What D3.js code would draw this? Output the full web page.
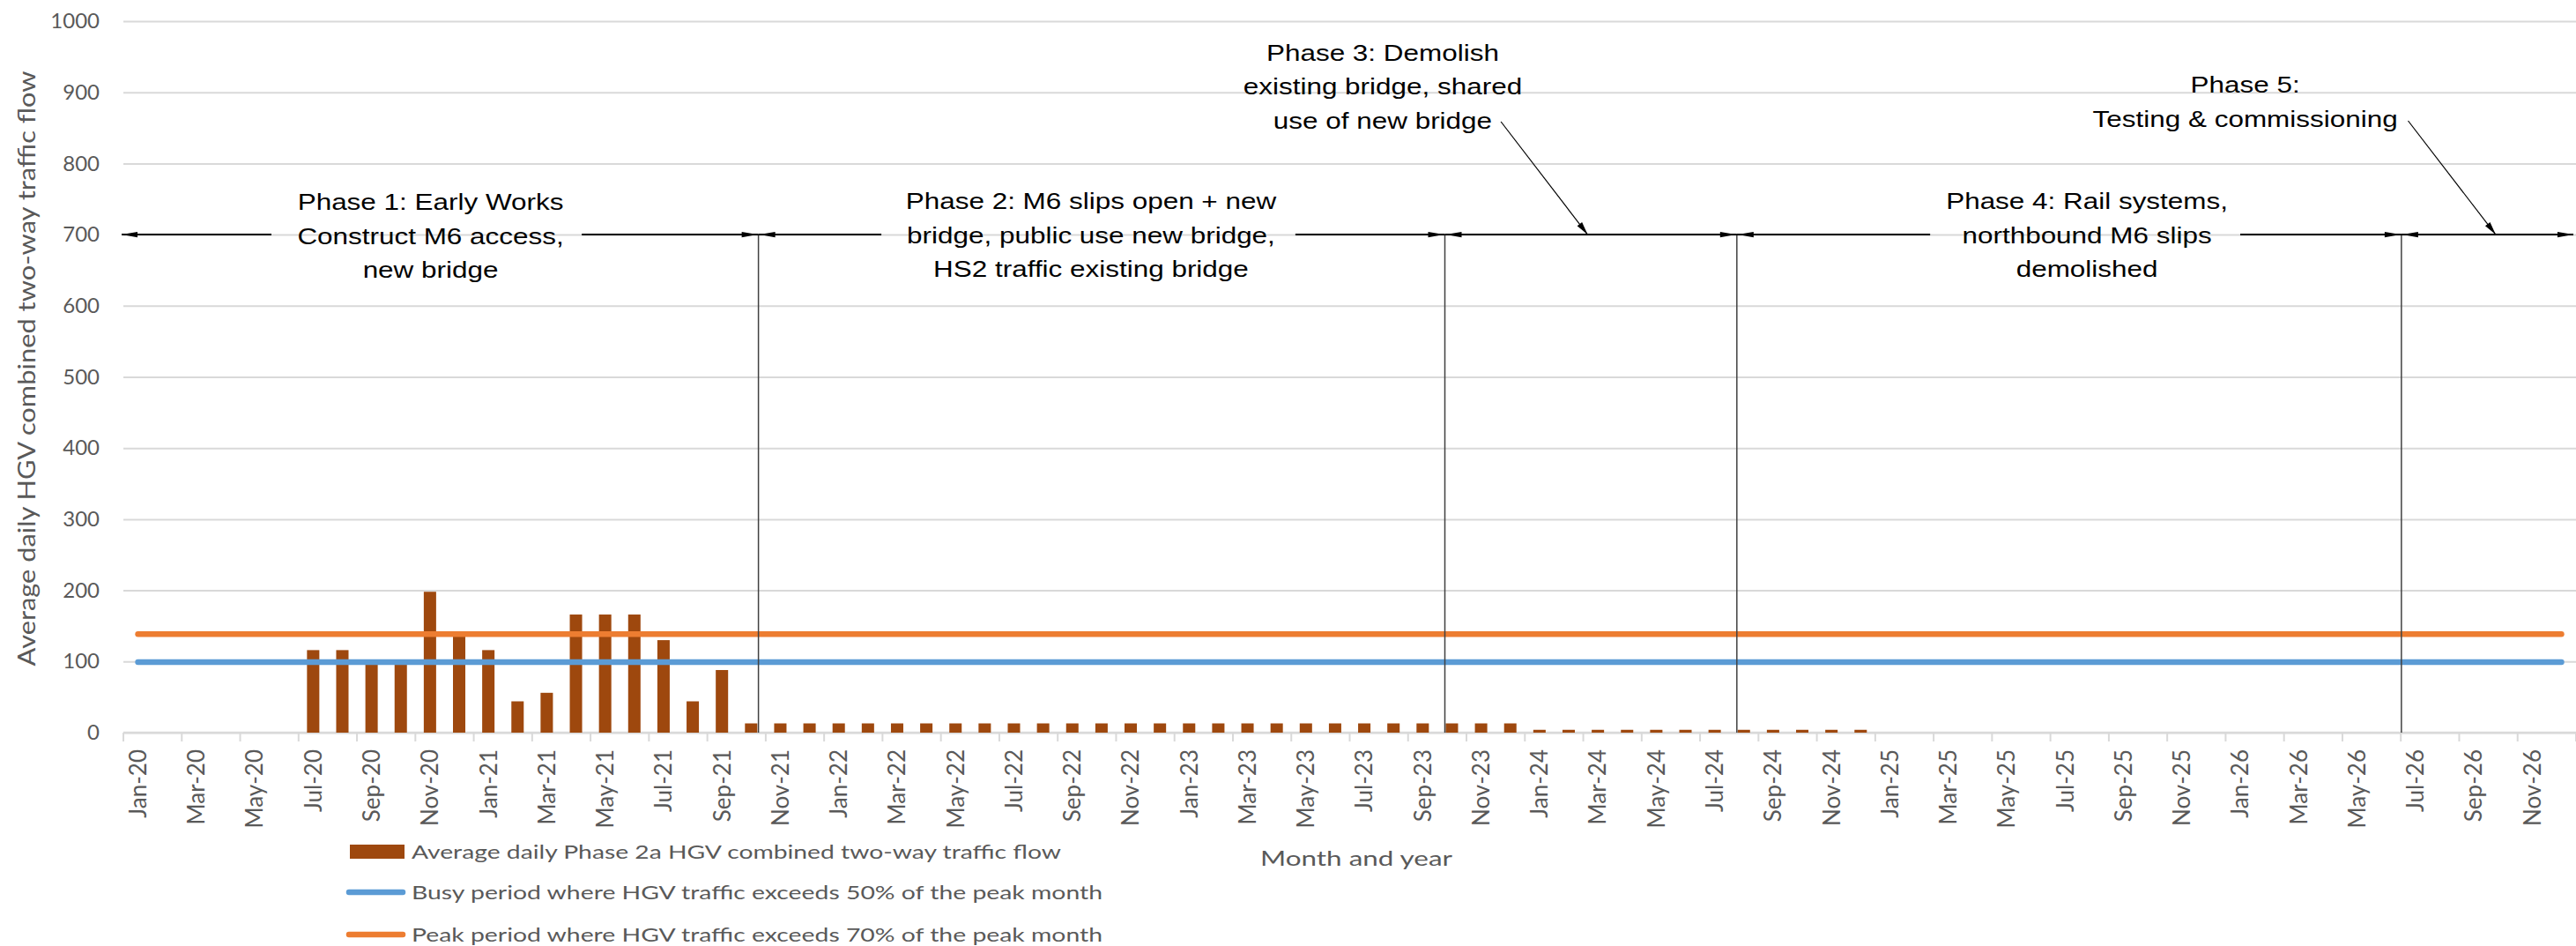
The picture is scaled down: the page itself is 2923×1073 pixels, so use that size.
<!DOCTYPE html>
<html>
<head>
<meta charset="utf-8">
<script src="https://cdn.jsdelivr.net/npm/d3@7"></script>
<style>
  html, body { margin: 0; padding: 0; background: #fff; }
  svg { display: block; }
</style>
</head>
<body>
<svg id="chart" width="2923" height="1073"></svg>
<script>
// ---- data -------------------------------------------------------------
const monthNames = ["Jan","Feb","Mar","Apr","May","Jun","Jul","Aug","Sep","Oct","Nov","Dec"];
const years = ["20","21","22","23","24","25","26"];

// Average daily Phase 2a HGV combined two-way traffic flow, one value per month (null = no traffic)
const hgvFlow = [
  // 2020
  null, null, null, null, null, null, 116, 116, 97, 97, 198, 136,
  // 2021
  116, 44, 56, 166, 166, 166, 130, 44, 88, 13, 13, 13,
  // 2022
  13, 13, 13, 13, 13, 13, 13, 13, 13, 13, 13, 13,
  // 2023
  13, 13, 13, 13, 13, 13, 13, 13, 13, 13, 13, 13,
  // 2024
  4, 4, 4, 4, 4, 4, 4, 4, 4, 4, 4, 4,
  // 2025
  null, null, null, null, null, null, null, null, null, null, null, null,
  // 2026
  null, null, null, null, null, null, null, null, null, null, null, null
];

const busyLevel = 99;    // 50% of the peak month
const peakLevel = 138.6; // 70% of the peak month

const yTicks = [0, 100, 200, 300, 400, 500, 600, 700, 800, 900, 1000];

// Phase boundaries, in months from the start of Jan-20
const phaseBoundaries = [21.75, 45.26, 55.26, 78.02];

const seriesNames = [
  "Average daily Phase 2a HGV combined two-way traffic flow",
  "Busy period where HGV traffic exceeds 50% of the peak month",
  "Peak period where HGV traffic exceeds 70% of the peak month"
];

const phaseLabels = [
  ["Phase 1: Early Works", "Construct M6 access,", "new bridge"],
  ["Phase 2: M6 slips open + new", "bridge, public use new bridge,", "HS2 traffic existing bridge"],
  ["Phase 3: Demolish", "existing bridge, shared", "use of new bridge"],
  ["Phase 4: Rail systems,", "northbound M6 slips", "demolished"],
  ["Phase 5:", "Testing & commissioning"]
];

// ---- setup ------------------------------------------------------------
const categories = [];
years.forEach(y => monthNames.forEach(m => categories.push(m + "-" + y)));

const svg = d3.select("#chart");
const plot = { left: 140, right: 2923, top: 24, bottom: 831 };

const xBand = d3.scaleBand().domain(categories)
  .range([plot.left, plot.right]).paddingInner(0.577).paddingOuter(0.2885);
const xMonth = d3.scaleLinear().domain([0, categories.length]).range([plot.left, plot.right]);
const y = d3.scaleLinear().domain([0, 1000]).range([plot.bottom, plot.top]);

const COL_BAR = "#9E480E", COL_BUSY = "#5B9BD5", COL_PEAK = "#ED7D31";
const TXT = "#595959", GRID = "#D9D9D9";
const excelFont = "Lato, 'Open Sans', sans-serif";
const noteFont = "'Liberation Sans', Arial, sans-serif";

// ---- gridlines & y axis ------------------------------------------------
const yAxis = d3.axisLeft(y).tickValues(yTicks).tickFormat(d3.format("d"))
  .tickSize(-(plot.right - plot.left)).tickPadding(27);
const gy = svg.append("g").attr("transform", `translate(${plot.left},0)`).call(yAxis);
gy.select(".domain").remove();
gy.selectAll(".tick line").attr("stroke", GRID).attr("stroke-width", 2);
gy.selectAll(".tick text").attr("fill", TXT).style("font-family", excelFont).style("font-size", "24px");

// ---- x axis -----------------------------------------------------------
const tickBoundaries = d3.range(0, categories.length + 1, 2);
svg.append("g").selectAll("line").data(tickBoundaries).join("line")
  .attr("x1", d => xMonth(d)).attr("x2", d => xMonth(d))
  .attr("y1", plot.bottom).attr("y2", plot.bottom + 10)
  .attr("stroke", GRID).attr("stroke-width", 2);
svg.append("line")
  .attr("x1", plot.left).attr("x2", plot.right)
  .attr("y1", plot.bottom).attr("y2", plot.bottom)
  .attr("stroke", GRID).attr("stroke-width", 2.5);

svg.append("g").selectAll("text")
  .data(categories.filter((c, i) => i % 2 === 0)).join("text")
  .attr("transform", d => `translate(${xBand(d) + xBand.bandwidth() / 2},850) rotate(-90)`)
  .attr("dy", "0.36em").attr("text-anchor", "end")
  .attr("fill", TXT).style("font-family", excelFont).style("font-size", "26px")
  .text(d => d);

// ---- bars -------------------------------------------------------------
svg.append("g").selectAll("rect")
  .data(categories.map((c, i) => ({ c, v: hgvFlow[i] })).filter(d => d.v != null))
  .join("rect")
  .attr("x", d => xBand(d.c)).attr("width", xBand.bandwidth())
  .attr("y", d => y(d.v)).attr("height", d => y(0) - y(d.v))
  .attr("fill", COL_BAR);

// ---- threshold lines --------------------------------------------------
const firstC = xBand(categories[0]) + xBand.bandwidth() / 2;
const lastC = xBand(categories[categories.length - 1]) + xBand.bandwidth() / 2;
[[peakLevel, COL_PEAK], [busyLevel, COL_BUSY]].forEach(([v, col]) => {
  svg.append("line")
    .attr("x1", firstC).attr("x2", lastC).attr("y1", y(v)).attr("y2", y(v))
    .attr("stroke", col).attr("stroke-width", 6.5).attr("stroke-linecap", "round");
});

// ---- phase timeline ---------------------------------------------------
const ann = svg.append("g");
const arrowY = y(700);

// filled arrow head with its tip at (tx, ty), pointing along angle a (radians)
function arrowHead(tx, ty, a, len = 18, half = 3.2) {
  const bx = tx - len * Math.cos(a), by = ty - len * Math.sin(a);
  const nx = -Math.sin(a) * half, ny = Math.cos(a) * half;
  ann.append("path")
    .attr("d", `M${tx},${ty}L${bx + nx},${by + ny}L${bx - nx},${by - ny}Z`)
    .attr("fill", "#000");
}

// boundary verticals
phaseBoundaries.forEach(b => {
  ann.append("line")
    .attr("x1", xMonth(b)).attr("x2", xMonth(b))
    .attr("y1", arrowY).attr("y2", y(0))
    .attr("stroke", "#404040").attr("stroke-width", 1.5);
});

// horizontal segments [from, to] in months, broken around the labels
const segments = [
  [-0.06, 5.07], [15.70, phaseBoundaries[0]],
  [phaseBoundaries[0], 25.96], [40.14, phaseBoundaries[1]],
  [phaseBoundaries[1], phaseBoundaries[2]],
  [phaseBoundaries[2], 61.88], [72.50, phaseBoundaries[3]],
  [phaseBoundaries[3], 83.91]
];
segments.forEach(([a, b]) => {
  ann.append("line")
    .attr("x1", xMonth(a)).attr("x2", xMonth(b))
    .attr("y1", arrowY).attr("y2", arrowY)
    .attr("stroke", "#000").attr("stroke-width", 2);
});

// arrow heads at both ends of each phase span
const spanEnds = [-0.06].concat(phaseBoundaries, [83.91]);
for (let i = 0; i < spanEnds.length - 1; i++) {
  const s = xMonth(spanEnds[i]), e = xMonth(spanEnds[i + 1]);
  arrowHead(s + (i === 0 ? 0 : 1), arrowY, Math.PI);
  arrowHead(e - (i === spanEnds.length - 2 ? 0 : 1), arrowY, 0);
}

// callouts for Phases 3 and 5
const callouts = [
  { from: [47.18, 138], to: [50.15, arrowY] },
  { from: [78.25, 137], to: [81.25, arrowY] }
];
callouts.forEach(c => {
  const x1 = xMonth(c.from[0]), y1 = c.from[1], x2 = xMonth(c.to[0]), y2 = c.to[1];
  ann.append("line").attr("x1", x1).attr("y1", y1).attr("x2", x2).attr("y2", y2)
    .attr("stroke", "#000").attr("stroke-width", 1.2);
  arrowHead(x2, y2, Math.atan2(y2 - y1, x2 - x1), 15, 3.5);
});

// phase labels: centre (months) and baselines (px)
const labelPos = [
  { cx: 10.52, base: [237.5, 276.5, 315] },
  { cx: 33.14, base: [237, 275.5, 314] },
  { cx: 43.13, base: [68.5, 107, 145.5] },
  { cx: 67.25, base: [237, 275.5, 314] },
  { cx: 72.67, base: [105, 143.5] }
];
phaseLabels.forEach((lines, i) => {
  lines.forEach((t, j) => {
    ann.append("text")
      .attr("transform", `translate(${xMonth(labelPos[i].cx)},${labelPos[i].base[j]}) scale(1.21,1)`)
      .attr("text-anchor", "middle").attr("fill", "#000")
      .style("font-family", noteFont).style("font-size", "26px")
      .text(t);
  });
});

// ---- axis titles ------------------------------------------------------
svg.append("text")
  .attr("transform", "translate(40,418) rotate(-90)")
  .attr("text-anchor", "middle").attr("fill", TXT)
  .attr("textLength", 675).attr("lengthAdjust", "spacingAndGlyphs")
  .style("font-family", excelFont).style("font-size", "26px")
  .text("Average daily HGV combined two-way traffic flow");

svg.append("text")
  .attr("x", 1539).attr("y", 973).attr("dy", "0.36em")
  .attr("text-anchor", "middle").attr("fill", TXT)
  .attr("textLength", 218).attr("lengthAdjust", "spacingAndGlyphs")
  .style("font-family", excelFont).style("font-size", "24px")
  .text("Month and year");

// ---- legend -----------------------------------------------------------
const legend = svg.append("g");
const legendRows = [
  { y: 966, kind: "bar", col: COL_BAR, len: 737 },
  { y: 1012, kind: "line", col: COL_BUSY, len: 784 },
  { y: 1060, kind: "line", col: COL_PEAK, len: 784 }
];
legendRows.forEach((r, i) => {
  if (r.kind === "bar") {
    legend.append("rect").attr("x", 397).attr("y", r.y - 8).attr("width", 62).attr("height", 16).attr("fill", r.col);
  } else {
    legend.append("line").attr("x1", 396).attr("x2", 457).attr("y1", r.y).attr("y2", r.y)
      .attr("stroke", r.col).attr("stroke-width", 6.5).attr("stroke-linecap", "round");
  }
  legend.append("text")
    .attr("x", 467).attr("y", r.y).attr("dy", "0.36em")
    .attr("fill", TXT).attr("textLength", r.len).attr("lengthAdjust", "spacingAndGlyphs")
    .style("font-family", excelFont).style("font-size", "22px")
    .text(seriesNames[i]);
});
</script>
</body>
</html>
